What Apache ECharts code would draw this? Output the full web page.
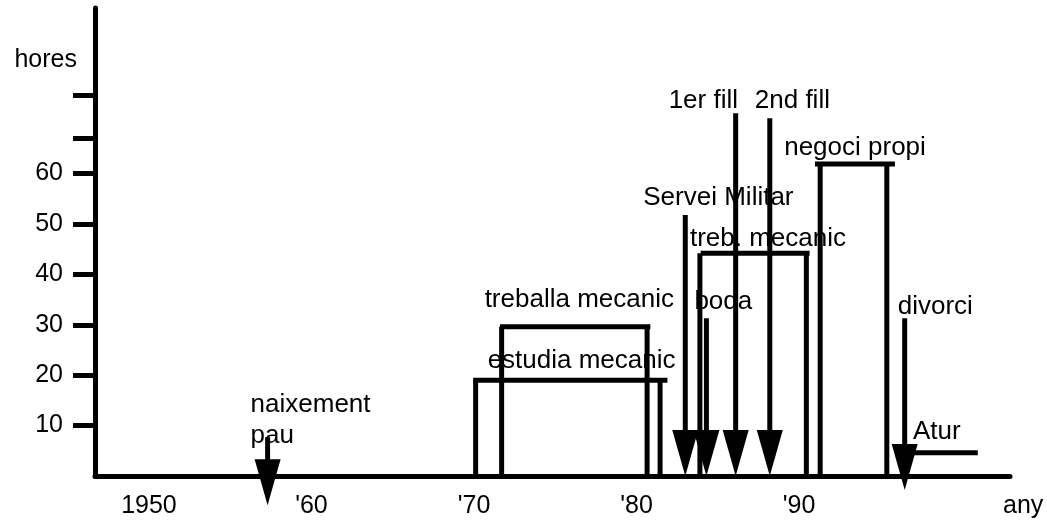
<!DOCTYPE html>
<html><head><meta charset="utf-8">
<script src="https://cdn.jsdelivr.net/npm/echarts@6/dist/echarts.min.js"></script>
<style>html,body{margin:0;padding:0;background:#fff}#c{width:1047px;height:522px}</style>
</head><body><div id="c"></div>
<script>
// ---- data (years / hours) ----
const xTickValues = [1950, 1960, 1970, 1980, 1990];
const xTickLabels = ['1950', "'60", "'70", "'80", "'90"];
const yTickValues = [10, 20, 30, 40, 50, 60];
const yExtraTickValues = [67, 75.5];

const activityNames = ['estudia mecanic', 'treballa mecanic', 'treb. mecanic', 'negoci propi'];
const activityStart = [1970.1, 1971.7, 1983.9, 1991.3];
const activityEnd   = [1981.45, 1980.65, 1990.45, 1995.4];
const activityHours = [19.0, 29.6, 44.2, 61.9];
const activityTopFrom = [1969.95, 1971.6, 1983.95, 1990.98];
const activityTopTo   = [1981.9, 1980.85, 1990.65, 1995.9];

const aturName = 'Atur';
const aturPeriod = [1996.7, 2001.0];
const aturHours = 4.6;

const eventNames = ['naixement\npau', 'Servei Militar', 'boda', '1er fill', '2nd fill', 'divorci'];
const eventYears = [1957.3, 1983.0, 1984.3, 1986.1, 1988.2, 1996.5];
const eventTop   = [7.7, 51.8, 31.3, 72.0, 71.0, 31.3];
const eventTip   = [-5.8, 0, 0, 0, 0, -2.8];

// ---- layout / style ----
const FONT = '"Liberation Sans", Arial, Helvetica, sans-serif';
const LW = 5;
const activityLabelOffset = [[12, -19], [-17, -27], [-10, -14], [-36, -16]];
const aturLabelOffset = [5, -21];
const eventLabelOffset = [[-17, -16.5], [-42, -17], [-12, -16], [-67, -12], [-15, -17], [-7, -11]];
const HEAD_W = 26, HEAD_H = 46;

const chart = echarts.init(document.getElementById('c'), null, {renderer: 'canvas'});

const activityData = activityNames.map((n, i) => [activityStart[i], activityEnd[i], activityHours[i], activityTopFrom[i], activityTopTo[i]]);
const eventData = eventNames.map((n, i) => [eventYears[i], eventTop[i], eventTip[i]]);

function txt(x, y, s) {
  return {type: 'text', x: x, y: y, silent: true,
    style: {text: s, fill: '#000', fontSize: 26, fontFamily: FONT, align: 'left', verticalAlign: 'middle', lineHeight: 31}};
}
function seg(a, b) {
  return {type: 'line', shape: {x1: a[0], y1: a[1], x2: b[0], y2: b[1]}, style: {stroke: '#000', lineWidth: LW}};
}

chart.setOption({
  animation: false,
  backgroundColor: '#fff',
  grid: {left: 95, right: 37, top: 8, bottom: 46},
  xAxis: {
    type: 'value', min: 1946.68, max: 2002.98,
    name: 'any', nameLocation: 'end', nameGap: -7,
    nameTextStyle: {color: '#000', fontSize: 25, fontFamily: FONT, align: 'left', verticalAlign: 'top', padding: [18, 0, 0, 0]},
    axisLine: {show: true, onZero: false, lineStyle: {color: '#000', width: LW}},
    axisTick: {show: false},
    splitLine: {show: false},
    axisLabel: {
      customValues: xTickValues, margin: 18, color: '#000', fontSize: 25, fontFamily: FONT,
      formatter: v => { const i = xTickValues.indexOf(v); return i >= 0 ? xTickLabels[i] : ''; }
    }
  },
  yAxis: {
    type: 'value', min: 0, max: 92.86,
    name: 'hores', nameLocation: 'end', nameGap: -52,
    nameTextStyle: {color: '#000', fontSize: 25, fontFamily: FONT, align: 'right', verticalAlign: 'middle', padding: [0, 18, 0, 0]},
    axisLine: {show: true, onZero: false, lineStyle: {color: '#000', width: LW}},
    axisTick: {show: true, inside: false, length: 22, customValues: yTickValues.concat(yExtraTickValues), lineStyle: {color: '#000', width: 5}},
    splitLine: {show: false},
    axisLabel: {customValues: yTickValues, margin: 32, color: '#000', fontSize: 25, fontFamily: FONT}
  },
  series: [
    { // activity labels (under lines)
      type: 'custom', z: 1, silent: true, data: activityData,
      renderItem: (params, api) => {
        const i = params.dataIndex;
        const p = api.coord([api.value(0), api.value(2)]);
        return txt(p[0] + activityLabelOffset[i][0], p[1] + activityLabelOffset[i][1], activityNames[i]);
      }
    },
    { // event labels
      type: 'custom', z: 1, silent: true, data: eventData,
      renderItem: (params, api) => {
        const i = params.dataIndex;
        const p = api.coord([api.value(0), api.value(1)]);
        return txt(p[0] + eventLabelOffset[i][0], p[1] + eventLabelOffset[i][1], eventNames[i]);
      }
    },
    { // atur label
      type: 'custom', z: 1, silent: true, data: [[aturPeriod[0], aturHours]],
      renderItem: (params, api) => {
        const p = api.coord([api.value(0), api.value(1)]);
        return txt(p[0] + aturLabelOffset[0], p[1] + aturLabelOffset[1], aturName);
      }
    },
    { // activity step shapes
      type: 'custom', z: 3, silent: true, data: activityData,
      renderItem: (params, api) => {
        const s = api.value(0), e = api.value(1), h = api.value(2), tf = api.value(3), tt = api.value(4);
        return {type: 'group', children: [
          seg(api.coord([s, 0]), api.coord([s, h])),
          seg(api.coord([e, 0]), api.coord([e, h])),
          seg(api.coord([tf, h]), api.coord([tt, h]))
        ]};
      }
    },
    { // event arrows
      type: 'custom', z: 3, silent: true, clip: false, data: eventData,
      renderItem: (params, api) => {
        const x = api.value(0);
        const pt = api.coord([x, api.value(1)]);
        const pp = api.coord([x, api.value(2)]);
        const baseY = pp[1] - HEAD_H;
        return {type: 'group', children: [
          seg([pt[0], pt[1]], [pt[0], baseY + 2]),
          {type: 'polygon', shape: {points: [[pp[0] - HEAD_W / 2, baseY], [pp[0] + HEAD_W / 2, baseY], [pp[0], pp[1]]]},
           style: {fill: '#000'}}
        ]};
      }
    },
    { // atur line
      type: 'line', z: 3, silent: true, symbol: 'none',
      data: [[aturPeriod[0], aturHours], [aturPeriod[1], aturHours]],
      lineStyle: {color: '#000', width: LW}
    }
  ]
});
</script>
</body></html>
